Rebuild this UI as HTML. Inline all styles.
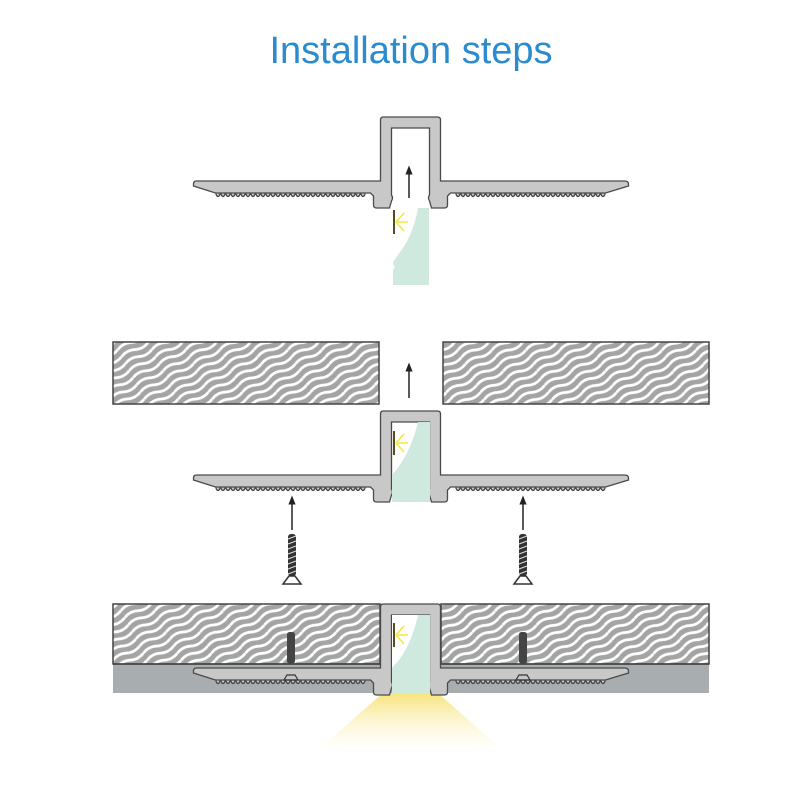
<!DOCTYPE html>
<html><head><meta charset="utf-8"><style>html,body{margin:0;padding:0;background:#fff}svg{display:block}</style></head>
<body>
<svg width="800" height="800" viewBox="0 0 800 800" xmlns="http://www.w3.org/2000/svg">
<defs>
<pattern id="wood" width="30" height="8" patternUnits="userSpaceOnUse" patternTransform="rotate(-28)">
<rect width="30" height="8" fill="#a4a4a4"/>
<path d="M0 4 Q7.5 0.5 15 4 T30 4" stroke="#fff" stroke-width="2.8" fill="none"/>
</pattern>
<pattern id="teeth" x="0" y="12" width="5" height="5" patternUnits="userSpaceOnUse">
<path d="M0 0 Q1.25 3.5 2.5 3.5 Q3.75 3.5 5 0 Z" fill="#c8c8c8"/>
<path d="M0 0 Q1.25 3.5 2.5 3.5 Q3.75 3.5 5 0" fill="none" stroke="#444" stroke-width="1.3"/>
</pattern>
<linearGradient id="cone" x1="0" y1="0" x2="0" y2="1">
<stop offset="0" stop-color="#f7e37a"/><stop offset="1" stop-color="#fffbe6" stop-opacity="0.2"/>
</linearGradient>
<g id="prof">
<rect x="-195" y="12" width="150" height="5" fill="url(#teeth)"/>
<rect x="45" y="12" width="150" height="5" fill="url(#teeth)"/>
<path d="M-217 3 Q-217 0 -214 0 L-30 0 L-30 -61 Q-30 -64 -27 -64 L27 -64 Q30 -64 30 -61 L30 0 L214 0 Q218 0 218 3 L218 5 L195 12 L40 12 L37 15 L37 24 Q37 27 34 27 L21 27 L19 20 Q17 17 19 14 L19 -53 L-19 -53 L-19 14 Q-17 17 -19 20 L-21 27 L-34 27 Q-37 27 -37 24 L-37 15 L-40 12 L-195 12 L-217 5 Z" fill="#c8c8c8" stroke="#4a4a4a" stroke-width="1.3"/>
</g>
<g id="led">
<line x1="0" y1="-12" x2="0" y2="12" stroke="#5a4a20" stroke-width="2"/>
<g stroke="#f3e93a" stroke-width="1.5"><line x1="2" y1="0" x2="14" y2="0"/><line x1="2" y1="0" x2="10" y2="-9"/><line x1="2" y1="0" x2="10" y2="9"/></g>
</g>
<g id="screw">
<rect x="-4" y="0" width="8" height="42" rx="3" fill="#333"/>
<g stroke="#ddd" stroke-width="1">
<line x1="-4" y1="5" x2="4" y2="2"/><line x1="-4" y1="10" x2="4" y2="7"/><line x1="-4" y1="15" x2="4" y2="12"/><line x1="-4" y1="20" x2="4" y2="17"/><line x1="-4" y1="25" x2="4" y2="22"/><line x1="-4" y1="30" x2="4" y2="27"/><line x1="-4" y1="35" x2="4" y2="32"/><line x1="-4" y1="40" x2="4" y2="37"/>
</g>
<path d="M-3 42 L-9 50 L9 50 L3 42 Z" fill="#fff" stroke="#333" stroke-width="1.5"/>
</g>
<marker id="ah" viewBox="0 0 10 10" refX="5" refY="5" markerWidth="6" markerHeight="8" orient="auto"><path d="M0 1 L10 5 L0 9 Z" fill="#222"/></marker>
</defs>

<text x="411" y="63" text-anchor="middle" font-family="Liberation Sans, sans-serif" font-size="38" fill="#2a8ccf">Installation steps</text>

<!-- Step 1 -->
<use href="#prof" transform="translate(410.5,181)"/>
<line x1="409" y1="198" x2="409" y2="170" stroke="#222" stroke-width="1.5" marker-end="url(#ah)"/>
<path d="M418 208 L429 208 L429 285 L393 285 L393 270 Q396 267 393 264 L393 262 Q398 255 405 245 Q414 230 418 208 Z" fill="#cfe9df"/>
<use href="#led" transform="translate(394,222)"/>

<!-- Step 2 boards -->
<rect x="113" y="342" width="266" height="62" fill="url(#wood)" stroke="#444" stroke-width="1.5"/>
<rect x="443" y="342" width="266" height="62" fill="url(#wood)" stroke="#444" stroke-width="1.5"/>
<line x1="409" y1="398" x2="409" y2="367" stroke="#222" stroke-width="1.5" marker-end="url(#ah)"/>
<use href="#prof" transform="translate(410.5,475)"/>
<path d="M392 475 Q410 455 418 422 L430 422 L430 502 L392 502 Z" fill="#cfe9df"/>
<use href="#led" transform="translate(394,443)"/>
<line x1="292" y1="530" x2="292" y2="500" stroke="#222" stroke-width="1.5" marker-end="url(#ah)"/>
<line x1="523" y1="530" x2="523" y2="500" stroke="#222" stroke-width="1.5" marker-end="url(#ah)"/>
<use href="#screw" transform="translate(292,534)"/>
<use href="#screw" transform="translate(523,534)"/>

<!-- Step 3 -->
<rect x="113" y="664" width="596" height="29" fill="#a8adb0"/>
<rect x="113" y="604" width="267" height="60" fill="url(#wood)" stroke="#444" stroke-width="1.5"/>
<rect x="441" y="604" width="268" height="60" fill="url(#wood)" stroke="#444" stroke-width="1.5"/>
<line x1="113" y1="664" x2="709" y2="664" stroke="#444" stroke-width="1.5"/>
<path d="M383 693 L438 693 L500 748 L320 748 Z" fill="url(#cone)"/>
<use href="#prof" transform="translate(410.5,668)"/>
<path d="M392 668 Q410 650 418 615 L430 615 L430 694 L392 694 Z" fill="#cfe9df"/>
<path d="M392 668 Q410 650 418 615 L392 615 Z" fill="#fff"/>
<use href="#led" transform="translate(394,635)"/>
<g transform="translate(291,632) scale(1,0.75)"><rect x="-4" y="0" width="8" height="42" rx="3" fill="#444"/></g>
<g transform="translate(523,632) scale(1,0.75)"><rect x="-4" y="0" width="8" height="42" rx="3" fill="#444"/></g>
<path d="M284 680 L298 680 L295 675 L287 675 Z" fill="none" stroke="#333" stroke-width="1.2"/>
<path d="M516 680 L530 680 L527 675 L519 675 Z" fill="none" stroke="#333" stroke-width="1.2"/>
</svg>
</body></html>
